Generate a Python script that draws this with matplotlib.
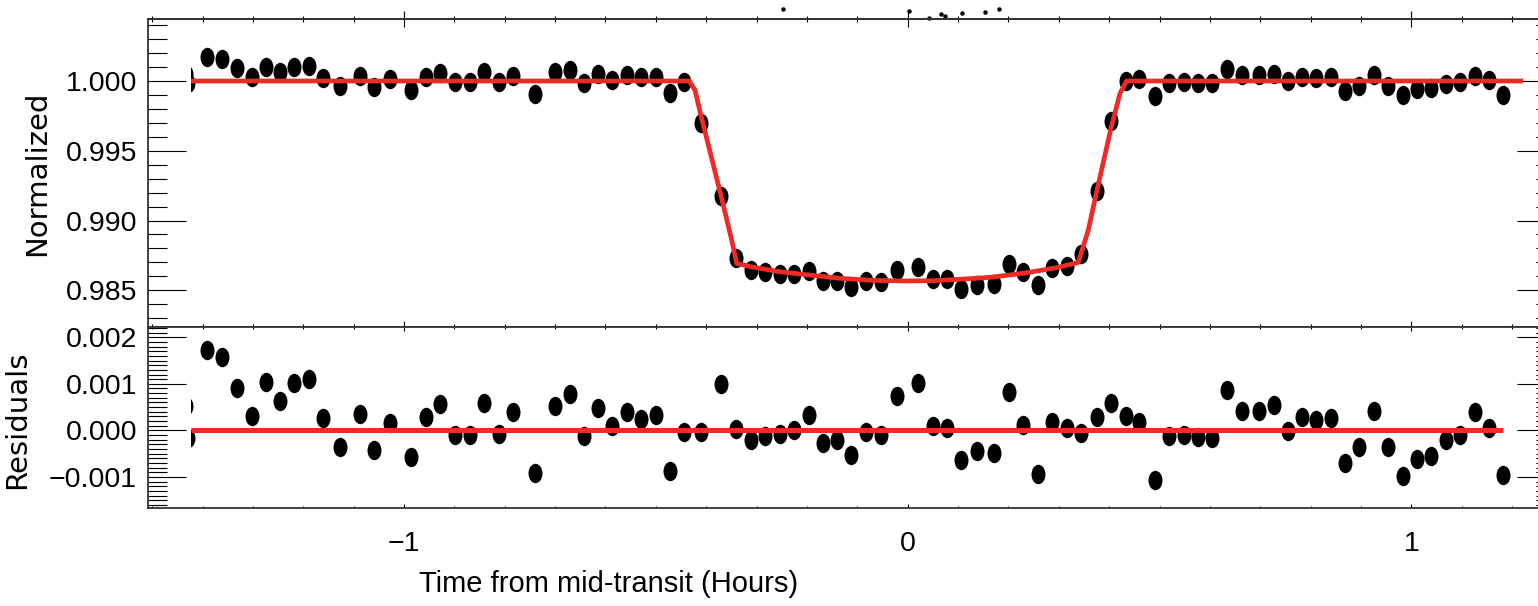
import numpy as np
from matplotlib import pyplot as plt
from matplotlib import ticker
from matplotlib.path import Path
from matplotlib.transforms import Affine2D
from matplotlib.patches import Rectangle


# データ (読み取り値)
# ########################################

# time from mid-transit [hours]
t_obs = [
    -1.4328, -1.4288,
    -1.3912, -1.3607, -1.3316, -1.3024, -1.2740, -1.2456, -1.2178, -1.1892,
    -1.1608, -1.1271, -1.0880, -1.0596, -1.0284, -0.9855, -0.9569, -0.9279,
    -0.8994, -0.8696, -0.8406, -0.8120, -0.7836, -0.7399, -0.6996, -0.6704,
    -0.6427, -0.6143, -0.5865, -0.5573, -0.5294,
    -0.5003, -0.4719, -0.4435, -0.4098, -0.3701, -0.3403, -0.3111, -0.2827,
    -0.2535, -0.2257, -0.1965, -0.1688, -0.1404, -0.1120, -0.0834, -0.0536,
    -0.0218, 0.0210, 0.0502, 0.0786, 0.1064, 0.1382, 0.1707, 0.2005,
    0.2295, 0.2581, 0.2871, 0.3163, 0.3447, 0.3752, 0.4036, 0.4328, 0.4592,
    0.4904, 0.5194, 0.5480, 0.5757, 0.6047, 0.6345, 0.6643, 0.6975,
    0.7266, 0.7550, 0.7828, 0.8112, 0.8398, 0.8682, 0.8966, 0.9258,
    0.9542, 0.9833, 1.0111, 1.0395, 1.0687, 1.0971, 1.1263, 1.1547, 1.1824,
]

flux = [
    1.00050, 0.99985,
    1.00170, 1.00158, 1.00096, 1.00029, 1.00103, 1.00067, 1.00103, 1.00110,
    1.00024, 0.99964, 1.00036, 0.99955, 1.00014, 0.99936, 1.00031, 1.00060,
    0.99990, 0.99990, 1.00062, 0.99995, 1.00038, 0.99904, 1.00064, 1.00079,
    0.99988, 1.00050, 1.00010, 1.00043, 1.00026,
    1.00031, 0.99912, 0.99995, 0.99697, 0.99178, 0.98734, 0.98645, 0.98629,
    0.98617, 0.98614, 0.98638, 0.98567, 0.98567, 0.98526, 0.98569, 0.98562,
    0.98645, 0.98669, 0.98581, 0.98581, 0.98512, 0.98538, 0.98543, 0.98688,
    0.98629, 0.98538, 0.98662, 0.98677, 0.98758, 0.99212, 0.99713, 1.00000, 1.00014,
    0.99892, 0.99988, 0.99990, 0.99986, 0.99983, 1.00086, 1.00041, 1.00043,
    1.00053, 1.00000, 1.00031, 1.00022, 1.00026, 0.99931, 0.99964, 1.00043,
    0.99964, 0.99900, 0.99940, 0.99947, 0.99978, 0.99990, 1.00036, 1.00007, 0.99902,
]

resid = [
    0.00053, -0.00016,
    0.00172, 0.00158, 0.00092, 0.00031, 0.00104, 0.00063, 0.00101, 0.00110,
    0.00027, -0.00035, 0.00036, -0.00043, 0.00016, -0.00057, 0.00029, 0.00056,
    -0.00009, -0.00009, 0.00059, -0.00007, 0.00039, -0.00091, 0.00052, 0.00079,
    -0.00013, 0.00048, 0.00009, 0.00040, 0.00025,
    0.00032, -0.00087, -0.00004, -0.00004, 0.00099, 0.00003, -0.00020, -0.00013,
    -0.00008, 0.00000, 0.00034, -0.00026, -0.00021, -0.00053, -0.00004, -0.00009,
    0.00073, 0.00101, 0.00010, 0.00006, -0.00064, -0.00045, -0.00049, 0.00083,
    0.00012, -0.00093, 0.00018, 0.00006, -0.00005, 0.00029, 0.00058, 0.00030, 0.00017,
    -0.00106, -0.00012, -0.00009, -0.00014, -0.00016, 0.00086, 0.00041, 0.00041,
    0.00054, -0.00002, 0.00029, 0.00022, 0.00026, -0.00069, -0.00036, 0.00042,
    -0.00035, -0.00099, -0.00061, -0.00054, -0.00021, -0.00009, 0.00039, 0.00006, -0.00096,
]

# transit model (red line)
model_t = [-1.4229, -0.4336, -0.4223, -0.4098, -0.3899, -0.3701, -0.3494, -0.3395,
           -0.3111, -0.2535, -0.1966, -0.1344, -0.0683, -0.0020, 0.0509, 0.1038,
           0.1634, 0.2296, 0.2958, 0.3387, 0.3586, 0.3752, 0.4036, 0.4215, 0.4348, 1.2216]
model_flux = [1.00000, 1.00000, 0.99935, 0.99744, 0.99458, 0.99171, 0.98860, 0.98693,
              0.98669, 0.98633, 0.98610, 0.98586, 0.98571, 0.98567, 0.98569, 0.98579,
              0.98593, 0.98622, 0.98662, 0.98700, 0.98932, 0.99207, 0.99661, 0.99912,
              1.00000, 1.00000]

resid_line_t = [-1.4229, 1.1824]
resid_line = [0.0, 0.0]

# 上端の小さな点
stray_t = [-0.2482, 0.0026, 0.0417, 0.0655, 0.0746, 0.1072, 0.1535, 0.1819]
stray_f = [1.00514, 1.00504, 1.00454, 1.00480, 1.00466, 1.00485, 1.00494, 1.00514]

time_ticks = [-1, 0, 1]
time_labels = ['\u22121', '0', '1']
flux_ticks = [0.985, 0.990, 0.995, 1.000]
flux_labels = ['0.985', '0.990', '0.995', '1.000']
resid_ticks = [-0.001, 0.0, 0.001, 0.002]
resid_labels = ['\u22120.001', '0.000', '0.001', '0.002']

t_clip = -1.4229


# グラフの枠組み
# ########################################

plt.rcParams['font.family'] = ['Liberation Sans', 'DejaVu Sans']

W, H = 1538, 606
fig = plt.figure(figsize=(W/100, H/100), dpi=100)
ax1 = fig.add_axes([148/W, 1-327/H, 1407/W, 308/H])
ax2 = fig.add_axes([148/W, 1-508.3/H, 1407/W, 181.6/H])

ellipse = Path.unit_circle().transformed(Affine2D().scale(0.72, 1.0))
red = '#ee2b25'


# プロット
# ########################################

pts1, = ax1.plot(t_obs, flux, ls='none', marker=ellipse, ms=14, color='black', mew=0)
pts1.set_clip_path(Rectangle((t_clip, 0.9), 5, 0.2, transform=ax1.transData))
ax1.plot(model_t, model_flux, color=red, lw=3.4, solid_capstyle='butt', zorder=3)
ax1.plot(stray_t, stray_f, ls='none', marker='o', ms=2.2, color='black', clip_on=False)

pts2, = ax2.plot(t_obs, resid, ls='none', marker=ellipse, ms=14, color='black', mew=0)
pts2.set_clip_path(Rectangle((t_clip, -0.01), 5, 0.02, transform=ax2.transData))
ax2.plot(resid_line_t, resid_line, color=red, lw=3.6, solid_capstyle='butt', zorder=3)

ax1.set_xlim(-1.5082, 1.2851)
ax1.set_ylim(0.982371, 1.004443)
ax2.set_xlim(-1.5082, 1.2851)
ax2.set_ylim(-0.001673, 0.002227)


# 目盛り
# ticks
# ########################################

for ax in (ax1, ax2):
    ax.set_xticks(time_ticks, time_labels)
    ax.xaxis.set_minor_locator(ticker.MultipleLocator(0.1))
    ax.tick_params(axis='y', which='both', direction='in', left=True, right=True,
                   labelsize=20.5, pad=8, width=0.8)
    ax.tick_params(axis='y', which='major', length=27.4)
    ax.tick_params(axis='y', which='minor', length=13.9)
    for s in ax.spines.values():
        s.set_color('#333333')
        s.set_linewidth(1.3)

ax1.set_yticks(flux_ticks, flux_labels)
ax1.yaxis.set_minor_locator(ticker.MultipleLocator(0.001))
ax1.tick_params(axis='x', which='both', direction='in', top=False, bottom=True,
                labelbottom=False, width=0.8)
ax1.tick_params(axis='x', which='major', length=4.3)
ax1.tick_params(axis='x', which='minor', length=2.5)

top = ax1.secondary_xaxis('top')
top.set_xticks(time_ticks)
top.xaxis.set_minor_locator(ticker.MultipleLocator(0.1))
top.tick_params(axis='x', which='both', direction='inout', labeltop=False, width=0.8)
top.tick_params(axis='x', which='major', length=11)
top.tick_params(axis='x', which='minor', length=5)
top.spines['top'].set_color('#333333')
top.spines['top'].set_linewidth(1.3)

ax2.set_yticks(resid_ticks, resid_labels)
ax2.yaxis.set_minor_locator(ticker.MultipleLocator(0.0001))
ax2.tick_params(axis='x', which='both', direction='in', top=True, bottom=True,
                labelsize=20.5, pad=16.5, width=0.8)
ax2.tick_params(axis='x', which='major', length=3.2)
ax2.tick_params(axis='x', which='minor', length=1.6)


# ラベル
# ########################################

ax2.set_xlabel('Time from mid-transit (Hours)', fontsize=21)
ax2.xaxis.set_label_coords(0.3276, -0.340)
ax1.set_ylabel('Normalized', family=['DejaVu Sans'], fontsize=21)
ax1.yaxis.set_label_coords(-0.0685, 0.5)
ax2.set_ylabel('Residuals', family=['DejaVu Sans'], fontsize=21)
ax2.yaxis.set_label_coords(-0.0828, 0.486)

fig.savefig('out.png', dpi=100)
